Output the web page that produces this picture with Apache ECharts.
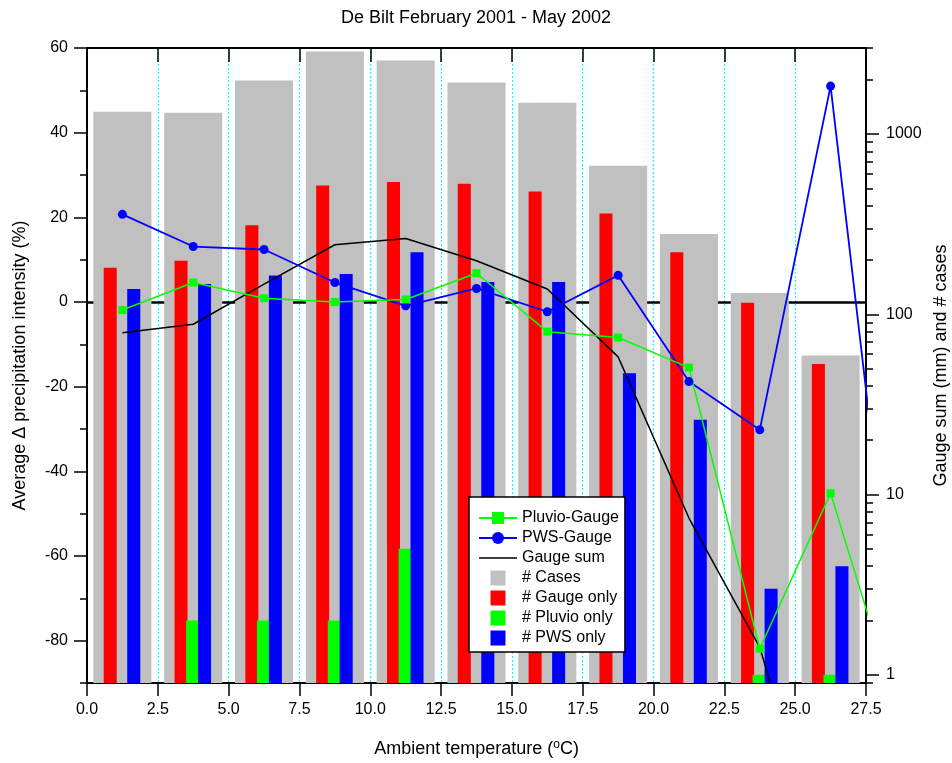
<!DOCTYPE html>
<html>
<head>
<meta charset="utf-8">
<title>De Bilt February 2001 - May 2002</title>
<script src="https://cdn.jsdelivr.net/npm/echarts@6/dist/echarts.min.js"></script>
<style>
  html, body { margin: 0; padding: 0; background: #fff; }
  #chart { width: 952px; height: 763px; }
</style>
</head>
<body>
<div id="chart"></div>
<script>
// Temperature bin centres (°C)
const binCenters = [1.25, 3.75, 6.25, 8.75, 11.25, 13.75, 16.25, 18.75, 21.25, 23.75, 26.25];
// The difference curves carry one more bin beyond the axis end
const diffX = [1.25, 3.75, 6.25, 8.75, 11.25, 13.75, 16.25, 18.75, 21.25, 23.75, 26.25, 28.75];

// Left axis: average difference in precipitation intensity (%)
const pluvioGauge = [-1.9, 4.6, 0.9, 0.0, 0.6, 6.8, -7.0, -8.4, -15.5, -81.9, -45.2, -99.6];
const pwsGauge = [20.7, 13.1, 12.4, 4.6, -0.9, 3.2, -2.3, 6.3, -18.8, -30.2, 51.0, -92.4];

// Right axis (log): gauge sum (mm) and case counts
const gaugeSum = [78.9, 88, 147, 243, 263, 198, 138, 58, 7.4, 1.42, 0.065];
const casesCount = [1330, 1313, 1978, 2866, 2555, 1928, 1493, 667, 279, 131, 59];
const gaugeOnly = [181, 198, 312, 518, 541, 530, 480, 362, 221, 116, 53];
const pluvioOnly = [null, 2, 2, 2, 5, null, null, null, null, 1, 1];
const pwsOnly = [138, 147, 164, 167, 221, 151, 151, 47, 26, 3, 4];

// Axis ranges and tick values
const xMin = 0, xMax = 27.5, xStep = 2.5;
const leftMin = -90, leftMax = 60, leftMinorStep = 10;
const leftMajor = [-80, -60, -40, -20, 0, 20, 40, 60];
const rightMin = 0.9, rightMax = 3000;
const rightMajor = [1, 10, 100, 1000];
const rightMinor = [0.9, 2, 3, 4, 5, 6, 7, 8, 9, 20, 30, 40, 50, 60, 70, 80, 90,
                    200, 300, 400, 500, 600, 700, 800, 900, 2000, 3000];

const FONT = '"Liberation Sans", Arial, Helvetica, sans-serif';
const SQUARE = 'path://M0,0H10V10H0Z';

function pairs(xs, ys) {
  return ys.map((v, i) => [xs[i], v]);
}

// Bars are drawn from the bottom of the log axis up to the value
function barRenderer(offset, width, color) {
  return function (params, api) {
    const x = api.value(0);
    const v = api.value(1);
    if (!(v > 0)) return null;
    const p0 = api.coord([x + offset - width / 2, v]);
    const p1 = api.coord([x + offset + width / 2, v]);
    const base = api.coord([x + offset, rightMin]);
    return {
      type: 'rect',
      shape: { x: p0[0], y: p0[1], width: p1[0] - p0[0], height: base[1] - p0[1] },
      style: { fill: color }
    };
  };
}

function barSeries(name, values, offset, width, color) {
  return {
    name: name,
    type: 'custom',
    xAxisIndex: 0,
    yAxisIndex: 2,
    z: 2,
    silent: true,
    itemStyle: { color: color },
    renderItem: barRenderer(offset, width, color),
    data: pairs(binCenters, values)
  };
}

const chart = echarts.init(document.getElementById('chart'), null, { renderer: 'canvas' });

const axisLineStyle = { color: '#000', width: 2 };
const tickStyle = { color: '#000', width: 1.5 };
const labelStyle = { color: '#000', fontSize: 16, fontFamily: FONT };
const nameStyle = { color: '#000', fontSize: 18, fontFamily: FONT };

chart.setOption({
  animation: false,
  backgroundColor: '#fff',
  textStyle: { fontFamily: FONT },
  title: {
    text: 'De Bilt February 2001 - May 2002',
    left: 'center',
    top: 4,
    textStyle: { color: '#000', fontSize: 18, fontWeight: 'normal', fontFamily: FONT }
  },
  grid: { left: 87, right: 86, top: 48, bottom: 80, containLabel: false, outerBoundsMode: 'none' },
  legend: {
    left: 469,
    top: 497,
    orient: 'vertical',
    backgroundColor: '#fff',
    borderColor: '#000',
    borderWidth: 1.5,
    borderRadius: 0,
    padding: [13, 6, 6, 9],
    itemWidth: 38,
    itemHeight: 15,
    itemGap: 4,
    symbolKeepAspect: true,
    selectedMode: false,
    textStyle: { color: '#000', fontSize: 16, fontFamily: FONT },
    data: [
      { name: 'Pluvio-Gauge' },
      { name: 'PWS-Gauge' },
      { name: 'Gauge sum', icon: 'path://M0,0H38V1.5H0Z' },
      { name: '# Cases', icon: SQUARE },
      { name: '# Gauge only', icon: SQUARE },
      { name: '# Pluvio only', icon: SQUARE },
      { name: '# PWS only', icon: SQUARE }
    ]
  },
  xAxis: [
    {
      type: 'value',
      position: 'bottom',
      min: xMin, max: xMax, interval: xStep,
      name: 'Ambient temperature ({sup|o}C)',
      nameLocation: 'middle',
      nameGap: 56,
      nameTextStyle: Object.assign({}, nameStyle, {
        rich: { sup: { fontSize: 12, fontFamily: FONT, color: '#000', verticalAlign: 'top', padding: [0, 0, 8, 0] } }
      }),
      axisLine: { show: true, onZero: false, lineStyle: axisLineStyle },
      axisTick: { show: true, inside: false, length: 13, lineStyle: tickStyle },
      axisLabel: Object.assign({}, labelStyle, {
        margin: 19,
        formatter: v => v.toFixed(1)
      }),
      splitLine: { show: true, lineStyle: { color: '#00FFFF', width: 1, type: [2, 2] } }
    },
    {
      type: 'value',
      position: 'top',
      min: xMin, max: xMax, interval: xStep,
      axisLine: { show: true, onZero: false, lineStyle: axisLineStyle },
      axisTick: { show: true, inside: true, length: 14, lineStyle: tickStyle },
      axisLabel: { show: false },
      splitLine: { show: false }
    }
  ],
  yAxis: [
    {
      type: 'value',
      position: 'left',
      min: leftMin, max: leftMax, splitNumber: 7,
      name: 'Average \u0394 precipitation intensity (%)',
      nameLocation: 'middle',
      nameRotate: 90,
      nameGap: 58,
      nameTextStyle: nameStyle,
      axisLine: { show: true, onZero: false, lineStyle: axisLineStyle },
      axisTick: { show: true, inside: false, length: 13, lineStyle: tickStyle, customValues: leftMajor },
      axisLabel: Object.assign({}, labelStyle, { margin: 19, customValues: leftMajor }),
      splitLine: { show: false }
    },
    {
      // minor ticks of the left axis
      type: 'value',
      position: 'left',
      min: leftMin, max: leftMax, interval: leftMinorStep,
      axisLine: { show: false, onZero: false },
      axisTick: { show: true, inside: false, length: 7, lineStyle: tickStyle },
      axisLabel: { show: false },
      splitLine: { show: false }
    },
    {
      type: 'log',
      logBase: 10,
      position: 'right',
      min: rightMin, max: rightMax,
      name: 'Gauge sum (mm) and # cases',
      nameLocation: 'middle',
      nameRotate: 90,
      nameGap: 60,
      nameTextStyle: nameStyle,
      axisLine: { show: true, onZero: false, lineStyle: axisLineStyle },
      axisTick: { show: true, inside: false, length: 13, lineStyle: tickStyle, customValues: rightMajor },
      axisLabel: Object.assign({}, labelStyle, { margin: 20, customValues: rightMajor,
        formatter: v => String(Math.round(v)) }),
      splitLine: { show: false },
      minorTick: { show: false }
    },
    {
      // minor ticks of the log axis
      type: 'log',
      logBase: 10,
      position: 'right',
      min: rightMin, max: rightMax,
      axisLine: { show: false, onZero: false },
      axisTick: { show: true, inside: false, length: 7, lineStyle: tickStyle, customValues: rightMinor },
      axisLabel: { show: false },
      splitLine: { show: false }
    }
  ],
  series: [
    barSeries('# Cases', casesCount, 0, 2.05, '#C0C0C0'),
    barSeries('# Gauge only', gaugeOnly, -0.43, 0.46, '#FF0000'),
    barSeries('# Pluvio only', pluvioOnly, -0.03, 0.44, '#00FF00'),
    barSeries('# PWS only', pwsOnly, 0.40, 0.46, '#0000FF'),
    {
      name: 'Gauge sum',
      type: 'line',
      xAxisIndex: 0,
      yAxisIndex: 2,
      z: 4,
      clip: true,
      symbol: 'none',
      silent: true,
      lineStyle: { color: '#000', width: 1.5 },
      itemStyle: { color: '#000' },
      data: pairs(binCenters, gaugeSum)
    },
    {
      name: 'PWS-Gauge',
      type: 'line',
      xAxisIndex: 0,
      yAxisIndex: 0,
      z: 4,
      clip: true,
      symbol: 'circle',
      symbolSize: 9,
      showSymbol: true,
      silent: true,
      lineStyle: { color: '#0000FF', width: 1.8 },
      itemStyle: { color: '#0000FF' },
      data: pairs(diffX, pwsGauge)
    },
    {
      name: 'Pluvio-Gauge',
      type: 'line',
      xAxisIndex: 0,
      yAxisIndex: 0,
      z: 4,
      clip: true,
      symbol: 'rect',
      symbolSize: 8,
      showSymbol: true,
      silent: true,
      lineStyle: { color: '#00FF00', width: 1.5 },
      itemStyle: { color: '#00FF00' },
      data: pairs(diffX, pluvioGauge),
      markLine: {
        z: 1,
        silent: true,
        symbol: 'none',
        label: { show: false },
        emphasis: { disabled: true },
        lineStyle: { color: '#000', width: 2.5, type: 'solid' },
        data: [{ yAxis: 0 }]
      }
    }
  ]
});
</script>
</body>
</html>
